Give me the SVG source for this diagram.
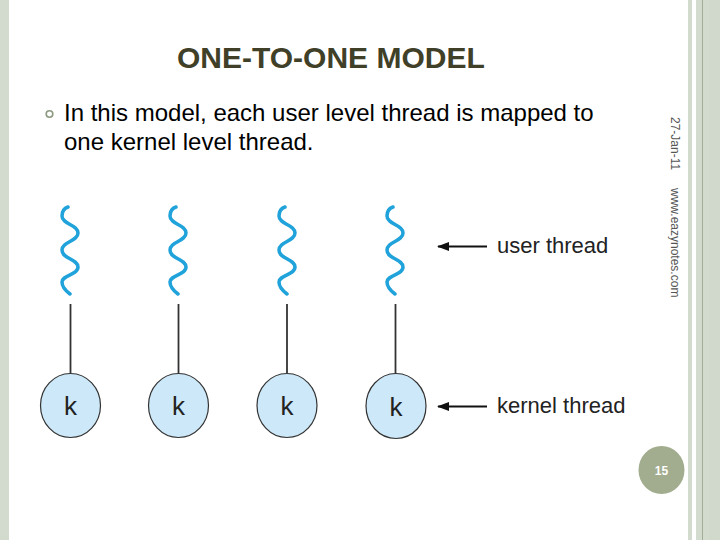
<svg xmlns="http://www.w3.org/2000/svg" xmlns:xlink="http://www.w3.org/1999/xlink" width="720" height="540" viewBox="0 0 720 540">
  <style>
    .title { font-family: "Liberation Sans", Arial, sans-serif; font-weight: bold; font-size: 30px; fill: #404028; }
    .body { font-family: "Liberation Sans", Arial, sans-serif; font-size: 24px; fill: #000; }
    .side { font-family: "Liberation Sans", Arial, sans-serif; font-size: 12px; fill: #555; }
    .lbl { font-family: "Liberation Sans", Arial, sans-serif; font-size: 22px; fill: #222; }
    .k { font-family: "Liberation Sans", Arial, sans-serif; font-size: 26px; fill: #222; text-anchor: middle; }
    .wave { fill: none; stroke: #20a2da; stroke-width: 3.5; stroke-linecap: round; }
    .link { stroke: #333; stroke-width: 1.8; }
    .kc { fill: #cde8f8; stroke: #333; stroke-width: 1.2; }
    .arrow { stroke: #111; stroke-width: 2.2; }
    .stripe { fill: #d3dbcf; }
  </style>
  <defs>
    <path id="wave" d="M-2,207 C-5,208 -8,211 -8,216 C-8,224.5 8,224.5 8,233 C8,241.5 -8,241.5 -8,250 C-8,259 8,259 8,267 C8,275 -8,275 -8,282 C-8,287 -4,291 0,294"/>
    <marker id="ah" viewBox="0 0 12 10" refX="11" refY="5" markerWidth="12" markerHeight="10" markerUnits="userSpaceOnUse" orient="auto">
      <path d="M0,0.5 L12,5 L0,9.5 Z" fill="#111"/>
    </marker>
  </defs>

  <rect x="0" y="0" width="720" height="540" fill="#fff"/>
  <!-- borders -->
  <rect class="stripe" x="0" y="0" width="9" height="540"/>
  <rect class="stripe" x="688" y="0" width="4" height="540"/>
  <rect class="stripe" x="696" y="0" width="6" height="540"/>
  <rect x="702" y="0" width="1.2" height="540" fill="#a3ae99"/>
  <rect class="stripe" x="703" y="0" width="6" height="540"/>
  <rect x="709" y="0" width="11" height="540" fill="#d0d9cc"/>

  <text class="title" x="177" y="68">ONE-TO-ONE MODEL</text>

  <circle cx="49.5" cy="114" r="3.3" fill="#fff" stroke="#8c9a80" stroke-width="1.6"/>
  <text class="body" x="64" y="121">In this model, each user level thread is mapped to</text>
  <text class="body" x="64" y="150">one kernel level thread.</text>

  <text class="side" transform="translate(671,117) rotate(90)">27-Jan-11</text>
  <text class="side" transform="translate(671,188) rotate(90)">www.eazynotes.com</text>

  <g id="connectors">
    <line class="link" x1="70.5" y1="304" x2="70.5" y2="373"/>
    <line class="link" x1="178.5" y1="304" x2="178.5" y2="373"/>
    <line class="link" x1="287" y1="304" x2="287" y2="373"/>
    <line class="link" x1="395.5" y1="304" x2="395.5" y2="374"/>
    <line class="arrow" x1="487" y1="246.5" x2="438" y2="246.5" marker-end="url(#ah)"/>
    <line class="arrow" x1="487" y1="406.5" x2="438" y2="406.5" marker-end="url(#ah)"/>
  </g>

  <g id="user1"><use xlink:href="#wave" class="wave" transform="translate(70,0)"/></g>
  <g id="user2"><use xlink:href="#wave" class="wave" transform="translate(178,0)"/></g>
  <g id="user3"><use xlink:href="#wave" class="wave" transform="translate(287,0)"/></g>
  <g id="user4"><use xlink:href="#wave" class="wave" transform="translate(395,0)"/></g>

  <g id="kernel1"><ellipse class="kc" cx="70.5" cy="405.5" rx="30" ry="32"/><text class="k" x="70.5" y="415">k</text></g>
  <g id="kernel2"><ellipse class="kc" cx="178.5" cy="405.5" rx="30" ry="32"/><text class="k" x="178.5" y="415">k</text></g>
  <g id="kernel3"><ellipse class="kc" cx="287" cy="405.5" rx="30" ry="32"/><text class="k" x="287" y="415">k</text></g>
  <g id="kernel4"><ellipse class="kc" cx="396" cy="406" rx="30" ry="32.5"/><text class="k" x="396" y="416">k</text></g>

  <text class="lbl" x="497" y="253">user thread</text>
  <text class="lbl" x="497" y="413">kernel thread</text>

  <g id="page">
    <ellipse cx="661.5" cy="470" rx="23" ry="24" fill="#a2ac8e"/>
    <text x="661.5" y="474.5" text-anchor="middle" style="font-family: 'Liberation Sans', Arial, sans-serif; font-size: 12px; font-weight: bold; fill: #fff;">15</text>
  </g>
</svg>
